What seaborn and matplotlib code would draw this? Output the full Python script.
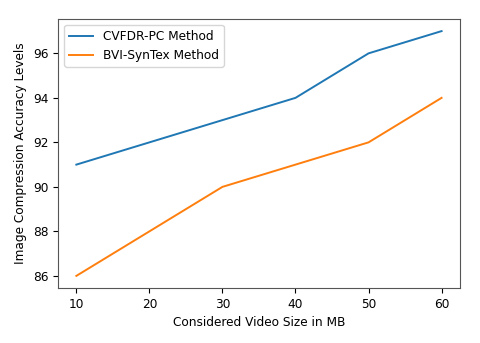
import matplotlib
matplotlib.use("Agg")
import matplotlib.pyplot as plt
import seaborn as sns
import pandas as pd

# video sizes (MB) and accuracy levels
video_size = [10, 20, 30, 40, 50, 60]
cvfdr_pc = [91, 92, 93, 94, 96, 97]
bvi_syntex = [86, 88, 90, 91, 92, 94]

df = pd.DataFrame({
    'size': video_size * 2,
    'accuracy': cvfdr_pc + bvi_syntex,
    'method': ['CVFDR-PC Method'] * 6 + ['BVI-SynTex Method'] * 6,
})

fig = plt.figure(figsize=(4.8, 3.43), dpi=100)
ax = fig.add_axes([0.121, 0.160, 0.837, 0.785])
sns.lineplot(data=df, x='size', y='accuracy', hue='method',
             palette=['#1f77b4', '#ff7f0e'], linewidth=1.4, ax=ax)

fs = 8.7
ax.set_xlabel('Considered Video Size in MB', fontsize=fs)
ax.set_ylabel('Image Compression Accuracy Levels', fontsize=fs)
ax.set_yticks([86, 88, 90, 92, 94, 96])
ax.set_xticks(video_size)
ax.tick_params(labelsize=fs)
for s in ax.spines.values():
    s.set_edgecolor('#555555')
ax.legend(title=None, loc='upper left', fontsize=fs)

fig.savefig('out.png', dpi=100)
